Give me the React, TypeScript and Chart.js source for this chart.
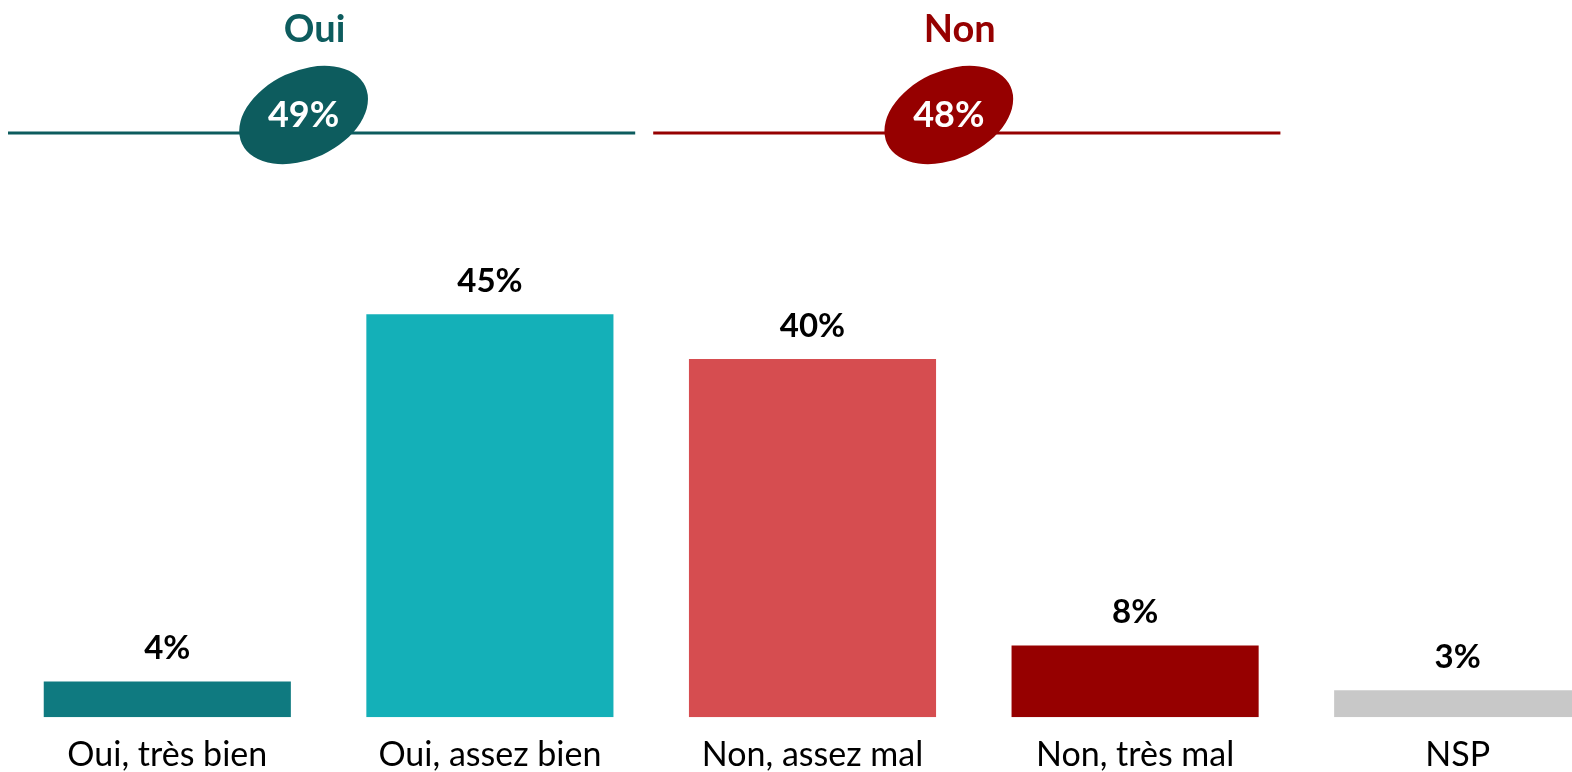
import React, { useEffect, useRef } from "react";
import { Chart, registerables } from "chart.js";

Chart.register(...registerables);

const categories = ["Oui, très bien", "Oui, assez bien", "Non, assez mal", "Non, très mal", "NSP"];
const values = [4, 45, 40, 8, 3];
const barColors = ["#0f7a80", "#14b0b8", "#d64d50", "#960000", "#c8c8c8"];

const groupLabels = ["Oui", "Non"];
const groupTotals = [49, 48];
const groupColors = ["#0d5c5e", "#960000"];
const groupRanges = [
  [0, 1],
  [2, 3],
];

const FONT = 'Lato, "Noto Sans", sans-serif';

const valueLabelPlugin = {
  id: "valueLabels",
  afterDatasetsDraw(chart: any) {
    const ctx = chart.ctx;
    const meta = chart.getDatasetMeta(0);
    ctx.save();
    ctx.font = `bold 33px ${FONT}`;
    ctx.fillStyle = "#000";
    ctx.textAlign = "center";
    ctx.textBaseline = "middle";
    meta.data.forEach((bar: any, i: number) => {
      ctx.fillText(`${values[i]}%`, bar.x, bar.y - 33);
    });
    ctx.restore();
  },
};

const headerPlugin = {
  id: "groupHeaders",
  afterDraw(chart: any) {
    const ctx = chart.ctx;
    const xs = chart.scales.x;
    const half = (xs.getPixelForValue(1) - xs.getPixelForValue(0)) / 2;
    ctx.save();
    groupRanges.forEach((r, g) => {
      const left = xs.getPixelForValue(r[0]) - half;
      const right = xs.getPixelForValue(r[1]) + half;
      const mid = (left + right) / 2;
      const color = groupColors[g];
      ctx.strokeStyle = color;
      ctx.lineWidth = 3;
      ctx.beginPath();
      ctx.moveTo(left + 2, 133);
      ctx.lineTo(right - 16, 133);
      ctx.stroke();
      ctx.fillStyle = color;
      ctx.font = `bold 38px ${FONT}`;
      ctx.textAlign = "center";
      ctx.textBaseline = "middle";
      ctx.fillText(groupLabels[g], mid - 14, 30);
      const ex = mid - 25;
      const ey = 115;
      ctx.beginPath();
      ctx.ellipse(ex, ey, 68, 44, (-25 * Math.PI) / 180, 0, Math.PI * 2);
      ctx.fill();
      ctx.fillStyle = "#fff";
      ctx.font = `bold 36px ${FONT}`;
      ctx.fillText(`${groupTotals[g]}%`, ex, ey);
    });
    ctx.restore();
  },
};

export default function App() {
  const ref = useRef<HTMLCanvasElement>(null);
  useEffect(() => {
    if (!ref.current) return;
    Chart.defaults.font.family = FONT;
    const chart = new Chart(ref.current, {
      type: "bar",
      data: {
        labels: categories,
        datasets: [
          {
            data: values,
            backgroundColor: barColors,
            borderWidth: 0,
            barPercentage: 1,
            categoryPercentage: 0.766,
          },
        ],
      },
      options: {
        responsive: false,
        animation: false,
        layout: { padding: { top: 180, left: 6, right: 1, bottom: 0 } },
        plugins: {
          legend: { display: false },
          tooltip: { enabled: false },
          title: { display: false },
        },
        scales: {
          x: {
            grid: { display: false, drawTicks: false },
            border: { display: false },
            ticks: {
              font: { size: 34, family: FONT },
              color: "#000",
              padding: 17,
              autoSkip: false,
              maxRotation: 0,
              minRotation: 0,
            },
          },
          y: {
            display: false,
            min: 0,
            max: 60,
          },
        },
      },
      plugins: [valueLabelPlugin, headerPlugin],
    });
    return () => chart.destroy();
  }, []);
  return (
    <div
      style={{
        position: "fixed",
        left: 0,
        top: 0,
        width: 1572,
        height: 772,
        overflow: "hidden",
        background: "#fff",
      }}
    >
      <canvas ref={ref} width={1620} height={792} style={{ display: "block" }} />
    </div>
  );
}
